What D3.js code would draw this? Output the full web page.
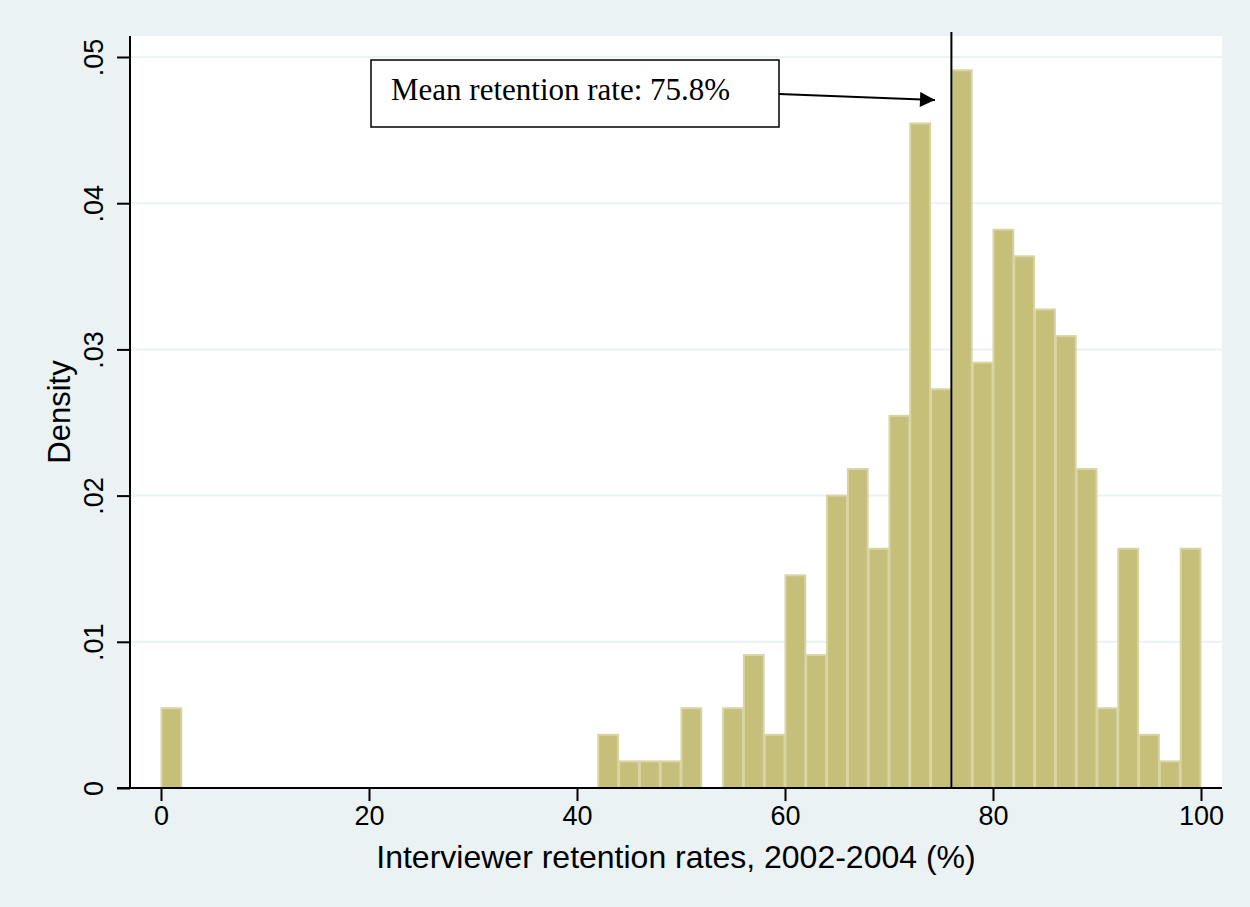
<!DOCTYPE html>
<html><head><meta charset="utf-8">
<script src="https://cdn.jsdelivr.net/npm/d3@7"></script>
<style>body{margin:0;background:#eaf2f3}</style></head>
<body><svg id="c" width="1250" height="907"></svg>
<script>
const binStarts=[0,42,44,46,48,50,54,56,58,60,62,64,66,68,70,72,74,76,78,80,82,84,86,88,90,92,94,96,98];
const counts=[3,2,1,1,1,3,3,5,2,8,5,11,12,9,14,25,15,27,16,21,20,18,17,12,3,9,2,1,9];
const binWidth=2;
const xTicks=[0,20,40,60,80,100];
const yTicks=[0,0.01,0.02,0.03,0.04,0.05];
const yTickLabels=["0",".01",".02",".03",".04",".05"];
const meanLine=76;
const annotation="Mean retention rate: 75.8%";
const n=d3.sum(counts);
const dens=counts.map(c=>c/(n*binWidth));

const svg=d3.select("#c");
svg.append("rect").attr("width",1250).attr("height",907).attr("fill","#eaf2f3");
const L=130,R=1222,T=36,B=788;
svg.append("rect").attr("x",L).attr("y",T).attr("width",R-L).attr("height",B-T).attr("fill","#fff");
const x=d3.scaleLinear().domain([0,100]).range([161,1201]);
const y=d3.scaleLinear().domain([0,0.05]).range([B,57]);
svg.selectAll(".g").data(yTicks.slice(1)).enter().append("line")
 .attr("x1",L).attr("x2",R).attr("y1",d=>y(d)).attr("y2",d=>y(d)).attr("stroke","#eaf2f3").attr("stroke-width",2);
svg.selectAll(".b").data(binStarts).enter().append("rect")
 .attr("x",(d)=>x(d)+0.5).attr("width",(d)=>x(d+binWidth)-x(d)-1)
 .attr("y",(d,i)=>y(dens[i])).attr("height",(d,i)=>B-y(dens[i]))
 .attr("fill","#c5bf7a").attr("stroke","#d8d4a4").attr("stroke-width",2);
svg.append("line").attr("x1",x(meanLine)).attr("x2",x(meanLine)).attr("y1",32).attr("y2",B).attr("stroke","#000").attr("stroke-width",2);
const ya=d3.axisLeft(y).tickValues(yTicks).tickFormat((d,i)=>yTickLabels[i]).tickSize(13);
const yg=svg.append("g").attr("transform",`translate(${L},0)`).call(ya);
yg.select(".domain").remove();
yg.append("line").attr("x1",0).attr("x2",0).attr("y1",T).attr("y2",B).attr("stroke","#000").attr("stroke-width",2);
yg.selectAll(".tick line").attr("stroke-width",2);
yg.selectAll(".tick text").attr("font-family","Liberation Sans, Arial").attr("font-size",27).attr("fill","#000")
 .attr("transform","rotate(-90)").attr("x",0).attr("y",-27).attr("dy","0").style("text-anchor","middle");
const xa=d3.axisBottom(x).tickValues(xTicks).tickSize(13);
const xg=svg.append("g").attr("transform",`translate(0,${B})`).call(xa);
xg.select(".domain").remove();
xg.append("line").attr("x1",117).attr("x2",R).attr("y1",0).attr("y2",0).attr("stroke","#000").attr("stroke-width",2);
xg.selectAll(".tick line").attr("stroke-width",2);
xg.selectAll(".tick text").attr("font-family","Liberation Sans, Arial").attr("font-size",27).attr("fill","#000").attr("y",18).attr("dy","0.71em");
svg.append("text").attr("x",676).attr("y",868).attr("text-anchor","middle").attr("font-family","Liberation Sans, Arial").attr("font-size",32).text("Interviewer retention rates, 2002-2004 (%)");
svg.append("text").attr("transform","translate(70,412) rotate(-90)").attr("text-anchor","middle").attr("font-family","Liberation Sans, Arial").attr("font-size",31).text("Density");
svg.append("rect").attr("x",371).attr("y",60).attr("width",408).attr("height",67).attr("fill","#fff").attr("stroke","#000").attr("stroke-width",1.5);
svg.append("text").attr("x",391).attr("y",100).attr("font-family","Liberation Serif, Times New Roman").attr("font-size",31).text(annotation);
svg.append("defs").append("marker").attr("id","ar").attr("viewBox","0 0 10 10").attr("refX",10).attr("refY",5)
 .attr("markerWidth",16).attr("markerHeight",15).attr("markerUnits","userSpaceOnUse").attr("orient","auto")
 .append("path").attr("d","M0,0L10,5L0,10Z");
svg.append("line").attr("x1",779).attr("y1",94).attr("x2",935).attr("y2",100).attr("stroke","#000").attr("stroke-width",2).attr("marker-end","url(#ar)");
</script></body></html>
